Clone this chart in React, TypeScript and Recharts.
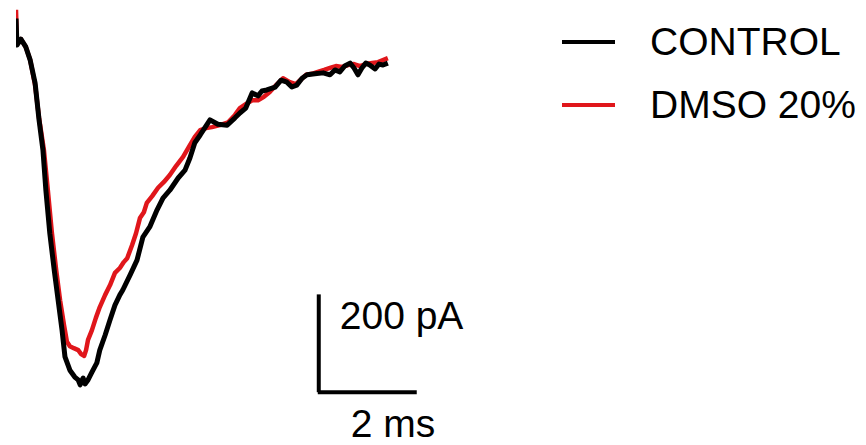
import React from "react";
import { LineChart, Line, XAxis, YAxis, ReferenceLine } from "recharts";

// Evoked currents, time in ms, current in pA
const controlTime = [
  0, 0.02, 0.1, 0.2, 0.29, 0.39, 0.47, 0.55, 0.61, 0.69, 0.78, 0.86, 0.94, 1.0, 1.1, 1.2, 1.27, 1.31, 1.37,
  1.41, 1.47, 1.55, 1.65, 1.71, 1.82, 1.92, 2.02, 2.12, 2.18, 2.33, 2.47, 2.59, 2.73, 2.88, 3.0, 3.14, 3.31,
  3.45, 3.55, 3.65, 3.76, 3.96, 4.12, 4.31, 4.47, 4.57, 4.69, 4.82, 4.94, 5.02, 5.12, 5.29, 5.41, 5.53, 5.63,
  5.73, 5.84, 5.94, 6.1, 6.27, 6.41, 6.51, 6.61, 6.71, 6.82, 6.9, 6.98, 7.06, 7.14, 7.22, 7.33, 7.41, 7.49, 7.59,
];
const controlCurrent = [
  52, -2, 10, -6, -33, -80, -155, -217, -299, -387, -462, -524, -585, -640, -667, -681, -687, -697, -683,
  -695, -687, -671, -652, -626, -595, -564, -534, -513, -503, -472, -442, -395, -374, -339, -315, -299, -274,
  -258, -233, -202, -186, -155, -164, -166, -151, -141, -131, -100, -106, -96, -94, -88, -74, -78, -88,
  -84, -70, -63, -61, -59, -63, -53, -57, -45, -39, -49, -63, -49, -39, -43, -51, -41, -43, -39,
];

const dmsoTime = [
  0, 0.02, 0.1, 0.2, 0.29, 0.39, 0.47, 0.57, 0.65, 0.73, 0.82, 0.9, 0.98, 1.04, 1.1, 1.18, 1.27, 1.33, 1.39,
  1.43, 1.47, 1.55, 1.63, 1.71, 1.82, 1.92, 2.02, 2.12, 2.2, 2.27, 2.37, 2.45, 2.53, 2.61, 2.67, 2.78, 2.9,
  3.02, 3.14, 3.27, 3.41, 3.55, 3.65, 3.76, 3.88, 4.0, 4.16, 4.33, 4.47, 4.57, 4.69, 4.82, 4.94, 5.06, 5.18,
  5.31, 5.45, 5.59, 5.71, 5.8, 5.92, 6.04, 6.16, 6.29, 6.41, 6.53, 6.65, 6.78, 6.9, 7.02, 7.14, 7.27, 7.39,
  7.49, 7.59,
];
const dmsoCurrent = [
  70, 0, 10, -6, -33, -84, -151, -217, -299, -384, -462, -524, -575, -609, -618, -622, -626, -634, -638,
  -626, -605, -585, -560, -538, -513, -493, -468, -458, -446, -438, -411, -387, -356, -344, -325, -311, -294,
  -282, -268, -249, -231, -207, -190, -176, -172, -170, -166, -160, -145, -131, -123, -115, -115, -108, -98,
  -84, -70, -78, -82, -74, -63, -61, -57, -53, -49, -45, -47, -43, -41, -45, -41, -39, -37,
  -33, -29,
];

// scale bar: 2 ms by 200 pA, anchored at its corner
const BAR_T = 6.18;
const BAR_I = -712;
const BAR_MS = 2;
const BAR_PA = 200;

const series = [
  { key: "control", name: "CONTROL", color: "#000000" },
  { key: "dmso", name: "DMSO 20%", color: "#e0161b" },
];

const controlData = controlTime.map((t, i) => ({ t, i: controlCurrent[i] }));
const dmsoData = dmsoTime.map((t, i) => ({ t, i: dmsoCurrent[i] }));

const FONT = '"Liberation Sans", Arial, sans-serif';

function LegendBox() {
  return (
    <div
      style={{
        position: "absolute",
        left: 562,
        top: 10,
        fontFamily: FONT,
        fontSize: 39,
        color: "#000",
      }}
    >
      {series.map((s) => (
        <div key={s.key} style={{ display: "flex", alignItems: "center", height: 63 }}>
          <span style={{ width: 53, height: 4, background: s.color, marginRight: 35 }} />
          <span>{s.name}</span>
        </div>
      ))}
    </div>
  );
}

export default function App() {
  return (
    <div style={{ position: "absolute", left: 0, top: 0, width: 866, height: 445, background: "#fff" }}>
      <LineChart width={866} height={445} margin={{ top: 0, right: 0, bottom: 0, left: 16 }}>
        <XAxis dataKey="t" type="number" domain={[0, 17.35]} hide allowDataOverflow />
        <YAxis dataKey="i" type="number" domain={[-820, 90]} hide allowDataOverflow />
        <Line
          data={dmsoData}
          dataKey="i"
          name="DMSO 20%"
          type="linear"
          stroke="#e0161b"
          strokeWidth={4.5}
          strokeLinejoin="round"
          dot={false}
          isAnimationActive={false}
        />
        <Line
          data={controlData}
          dataKey="i"
          name="CONTROL"
          type="linear"
          stroke="#000000"
          strokeWidth={5}
          strokeLinejoin="round"
          dot={false}
          isAnimationActive={false}
        />
        <ReferenceLine
          segment={[{ x: BAR_T, y: BAR_I }, { x: BAR_T, y: BAR_I + BAR_PA }]}
          stroke="#000"
          strokeWidth={4}
          label={(p: any) => (
            <text x={p.viewBox.x + 21} y={p.viewBox.y + 35} fontFamily={FONT} fontSize={39} fill="#000">
              {BAR_PA} pA
            </text>
          )}
        />
        <ReferenceLine
          segment={[{ x: BAR_T - 0.02, y: BAR_I }, { x: BAR_T + BAR_MS, y: BAR_I }]}
          stroke="#000"
          strokeWidth={4}
          label={(p: any) => (
            <text x={p.viewBox.x + 33} y={p.viewBox.y + 45} fontFamily={FONT} fontSize={39} fill="#000">
              {BAR_MS} ms
            </text>
          )}
        />
      </LineChart>
      <LegendBox />
    </div>
  );
}
